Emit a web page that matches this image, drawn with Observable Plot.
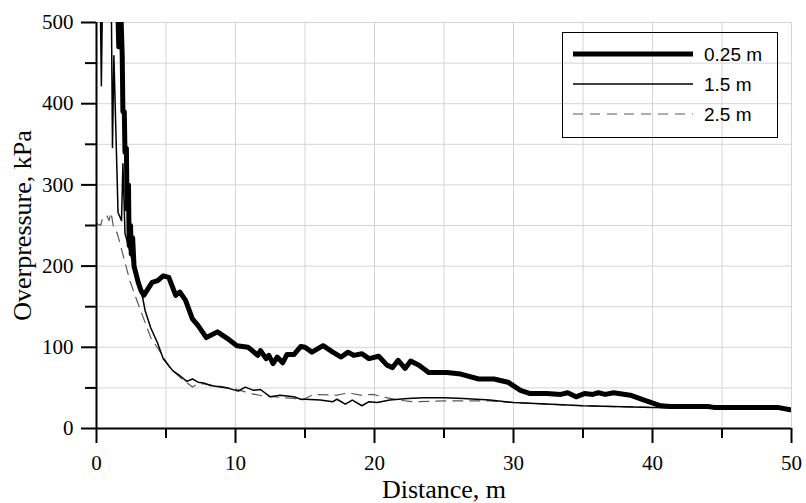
<!DOCTYPE html>
<html>
<head>
<meta charset="utf-8">
<script src="https://cdn.jsdelivr.net/npm/d3@7"></script>
<script src="https://cdn.jsdelivr.net/npm/@observablehq/plot@0.6"></script>
<style>
  html, body { margin: 0; padding: 0; background: white; }
</style>
</head>
<body>
<div id="chart"></div>
<script>
// ---- Data ----
// 0.25 m (thick line)
const x025 = [1.5,1.6,1.7,1.85,1.9,2.0,2.05,2.15,2.2,2.3,2.35,2.45,2.5,2.6,2.7,2.85,3.0,3.2,3.4,
  4.0,4.4,4.8,5.2,5.7,6.0,6.4,6.9,7.3,7.9,8.7,9.4,10.1,10.9,11.2,11.6,11.8,12.2,12.4,12.7,13.0,13.4,13.7,14.2,
  14.7,15.0,15.5,16.3,17.0,17.6,18.1,18.5,19.1,19.6,20.3,20.9,21.3,21.7,22.2,22.6,23.2,23.9,25.2,26.2,27.5,28.6,
  29.6,30.5,31.2,32.4,33.4,33.9,34.5,35.1,35.7,36.1,36.6,37.2,38.4,39.4,40.6,41.3,44.0,44.4,49.0,49.9];
const y025 = [540,470,540,460,390,390,340,345,270,300,225,250,215,235,200,190,180,170,164,
  180,182,188,186,164,168,158,135,127,112,119,111,102,100,96,90,96,86,90,80,88,81,91,91,
  101,100,94,102,94,88,94,90,92,86,89,78,75,84,74,83,78,69,69,67,61,61,
  57,47,43,43,42,44,39,43,42,44,42,44,41,35,28,27,27,26,26,23];

// 1.5 m (thin line)
const x15 = [0.25,0.35,0.45,1.05,1.15,1.25,1.55,1.8,1.9,2.05,2.3,2.6,2.9,3.2,3.5,3.9,4.4,4.8,5.5,6.0,
  6.5,6.9,7.3,7.7,8.2,9.4,10.2,10.7,11.3,11.8,12.5,13.2,14.2,14.7,15.0,16.1,17.0,17.3,17.9,18.4,19.1,19.6,
  20.2,21.1,22.4,23.5,25.0,26.4,28.3,30,35,40,45,50];
const y15 = [560,422,560,560,346,459,266,256,326,240,225,205,185,172,145,124,105,86,71,65,
  58,61,57,56,53,50,46,51,47,48,39,41,39,36,36,35,33,36,30,35,28,33,
  32,35,37,38,38,37,35,32,28,26,25,24];

// 2.5 m (dashed line)
const x25 = [0.05,0.3,0.45,0.75,0.9,1.05,1.2,1.5,1.95,2.4,2.9,3.4,3.9,4.6,5.3,6.0,6.9,7.3,7.8,9.9,11.1,12.0,
  14.2,14.8,15.6,17.3,18.1,19.0,19.9,20.6,21.7,22.8,25.0,28.3,30,35,40,45,50];
const y25 = [252,250,260,262,256,266,250,240,211,182,158,135,112,94,74,63,51,55,55,49,43,40,
  37,35,42,41,44,41,42,39,35,33,34,34,32,28,26,25,24];

// Axis ticks / grid
const xMajor = [0,10,20,30,40,50];
const xMinor = [5,15,25,35,45];
const yMajor = [0,100,200,300,400,500];
const yMinor = [50,150,250,350,450];
const xGrid = [5,10,15,20,25,30,35,40,45,50];
const yGrid = [50,100,150,200,250,300,350,400,450,500];

const xTitle = "Distance, m";
const yTitle = "Overpressure, kPa";
const legendLabels = ["0.25 m", "1.5 m", "2.5 m"];

const toRows = (xs, ys) => xs.map((x, i) => ({x, y: ys[i]}));
const d025 = toRows(x025, y025);
const d15 = toRows(x15, y15);
const d25 = toRows(x25, y25);

const serif = "'Liberation Serif', 'Times New Roman', serif";
const styles = [
  {stroke: "black", strokeWidth: 5, dash: null},
  {stroke: "black", strokeWidth: 1.5, dash: null},
  {stroke: "#5a5a5a", strokeWidth: 1.2, dash: "10,7"}
];

const svg = Plot.plot({
  width: 806,
  height: 503,
  marginLeft: 96,
  marginRight: 15,
  marginTop: 22,
  marginBottom: 75,
  x: {domain: [0, 50]},
  y: {domain: [0, 500]},
  style: {fontFamily: serif, fontSize: "21px", color: "black", background: "white", overflow: "visible"},
  marks: [
    Plot.ruleX(xGrid, {stroke: "#d4d4d4", strokeWidth: 1}),
    Plot.ruleY(yGrid, {stroke: "#d4d4d4", strokeWidth: 1}),
    Plot.line(d25, {x: "x", y: "y", stroke: styles[2].stroke, strokeWidth: styles[2].strokeWidth, strokeDasharray: styles[2].dash, clip: true}),
    Plot.line(d15, {x: "x", y: "y", stroke: styles[1].stroke, strokeWidth: styles[1].strokeWidth, clip: true}),
    Plot.line(d025, {x: "x", y: "y", stroke: styles[0].stroke, strokeWidth: styles[0].strokeWidth, strokeLinejoin: "round", clip: true}),
    Plot.axisX(xMajor, {tickSize: 15, tickPadding: 12, strokeWidth: 2, label: null, fontSize: 21}),
    Plot.axisX(xMinor, {tickSize: 10, text: null, strokeWidth: 2, label: null}),
    Plot.axisY(yMajor, {tickSize: 15, tickPadding: 8, strokeWidth: 2, label: null, fontSize: 21}),
    Plot.axisY(yMinor, {tickSize: 11, text: null, strokeWidth: 2, label: null}),
    Plot.ruleX([0], {stroke: "black", strokeWidth: 2}),
    Plot.ruleY([0], {stroke: "black", strokeWidth: 2}),
    Plot.text([yTitle], {frameAnchor: "left", textAnchor: "middle", lineAnchor: "middle", dx: -74, rotate: -90, fontSize: 26, text: d => d}),
    Plot.text([xTitle], {frameAnchor: "bottom", textAnchor: "middle", dy: 69, fontSize: 26, text: d => d})
  ]
});

// force serif on all chart texts (axes and titles)
d3.select(svg).selectAll("text").style("font-family", serif).style("font-variant", "normal");

// Legend (pixel layout inside the frame, top-right)
const g = d3.select(svg).append("g")
  .attr("text-anchor", "start");
g.append("rect").attr("x", 562.5).attr("y", 32.5).attr("width", 215).attr("height", 105)
  .attr("fill", "none").attr("stroke", "black").attr("stroke-width", 1);
legendLabels.forEach((label, i) => {
  const cy = 54 + i * 30;
  const st = styles[i];
  g.append("line").attr("x1", 573).attr("x2", 693).attr("y1", cy).attr("y2", cy)
    .attr("stroke", st.stroke).attr("stroke-width", st.strokeWidth)
    .attr("stroke-dasharray", st.dash);
  g.append("text").attr("x", 704).attr("y", cy + 7).attr("fill", "black")
    .style("font-family", "'Liberation Sans', Arial, sans-serif").style("font-size", "19px")
    .text(label);
});

document.getElementById("chart").appendChild(svg);
</script>
</body>
</html>
